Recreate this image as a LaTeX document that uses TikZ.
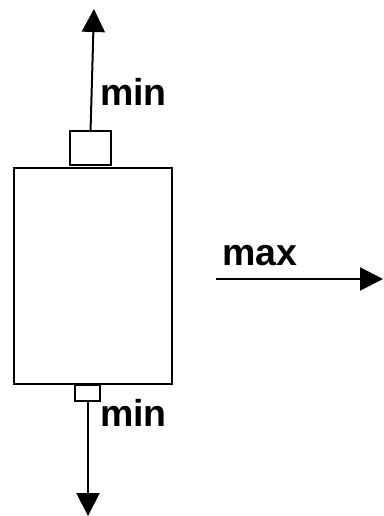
\documentclass[tikz,border=0pt]{standalone}
\usepackage{fontspec}
\setmainfont{Liberation Sans}
\usepackage{tikz}
\usetikzlibrary{arrows.meta}

\tikzset{
  box/.style={draw, line width=2pt, inner sep=0pt, fill=white},
  pull/.style={line width=2pt, -{Triangle[length=23pt,width=23pt]}},
  lbl/.style={font=\fontsize{37.5}{42}\selectfont\bfseries, inner sep=0pt}
}

\begin{document}
\begin{tikzpicture}[x=1pt,y=-1pt]
  \useasboundingbox (0,0) rectangle (383,516);
  % body and the two small blocks
  \node[box, minimum width=158pt, minimum height=216pt] (body) at (93,276) {};
  \node[box, minimum width=41pt, minimum height=34pt] (topbox) at (90.5,148) {};
  \node[box, minimum width=25pt, minimum height=16pt] (botbox) at (87.5,393) {};
  % arrow ends
  \coordinate (topend) at (94,9);
  \coordinate (botend) at (88,516);
  \coordinate (maxstart) at (216,279);
  \coordinate (maxend) at (383,279);
  \draw[pull] ([yshift=-2pt]topbox.north) -- (topend);
  \draw[pull] ([xshift=0.5pt,yshift=2pt]botbox.south) -- (botend);
  \draw[pull] (maxstart) -- (maxend);
  % labels
  \node[lbl, anchor=base west] (mintop) at (100,106) {min};
  \node[lbl, anchor=base west] (minbot) at (100,426) {min};
  \node[lbl, anchor=base west] (maxlbl) at (222,265) {max};
\end{tikzpicture}
\end{document}
